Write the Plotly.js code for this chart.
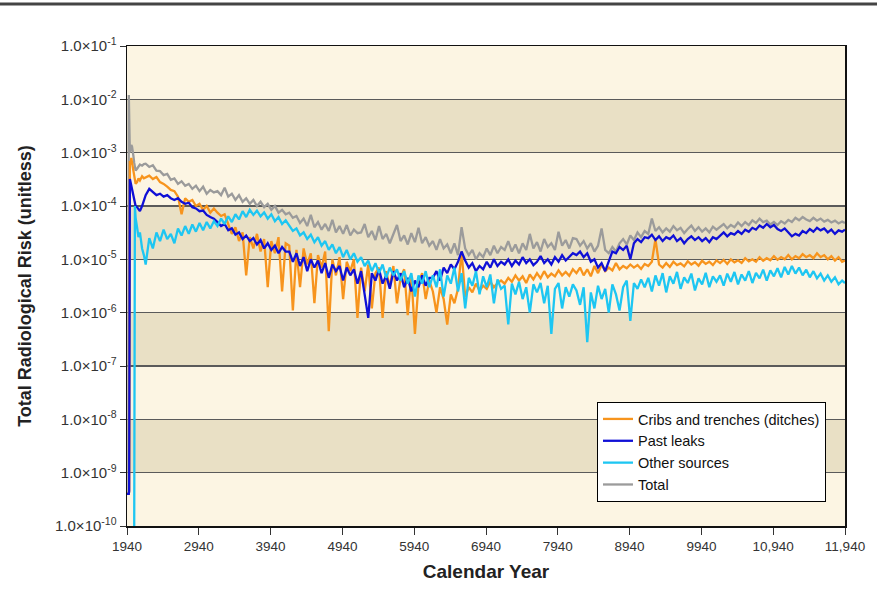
<!DOCTYPE html>
<html>
<head>
<meta charset="utf-8">
<script src="https://cdn.plot.ly/plotly-3.0.1.min.js"></script>
<style>html,body{margin:0;padding:0;background:#fff;}#chart{width:877px;height:591px;}</style>
</head>
<body>
<div id="chart"></div>
<script>
const years = [
 1940,1950,1960,1965,1970,1975,1980,1990,2000,2010,2020,2030,2040,2050,2060,2080,2100,2120,2150,2175,
 2200,2250,2300,2350,2400,2450,2500,2550,2600,2650,2700,2750,2800,2850,2900,2950,3000,3050,3100,3150,
 3200,3250,3300,3350,3400,3450,3500,3550,3600,3650,3700,3750,3800,3850,3900,3950,4000,4050,4100,4150,
 4200,4250,4300,4350,4400,4450,4500,4550,4600,4650,4700,4750,4800,4850,4900,4950,5000,5050,5100,5150,
 5200,5250,5300,5350,5400,5450,5500,5550,5600,5650,5700,5750,5800,5850,5900,5950,6000,6050,6100,6150,
 6200,6250,6300,6350,6400,6450,6500,6550,6600,6650,6700,6750,6800,6850,6900,6950,7000,7050,7100,7150,
 7200,7250,7300,7350,7400,7450,7500,7550,7600,7650,7700,7750,7800,7850,7900,7950,8000,8050,8100,8150,
 8200,8250,8300,8350,8400,8450,8500,8550,8600,8650,8700,8750,8800,8850,8900,8950,9000,9050,9100,9150,
 9200,9250,9300,9350,9400,9450,9500,9550,9600,9650,9700,9750,9800,9850,9900,9950,10000,10050,10100,10150,
 10200,10250,10300,10350,10400,10450,10500,10550,10600,10650,10700,10750,10800,10850,10900,10950,11000,11050,11100,11150,
 11200,11250,11300,11350,11400,11450,11500,11550,11600,11650,11700,11750,11800,11850,11900,11940
];

const total = [
 4e-10,4e-10,4e-10,1.2e-2,3.0e-3,1.3e-3,1.0e-3,1.2e-3,1.4e-3,1.3e-3,1.1e-3,8.5e-4,6.5e-4,5.0e-4,4.6e-4,5.0e-4,5.6e-4,6.0e-4,5.7e-4,6.1e-4,
 6.2e-4,5.4e-4,5.8e-4,4.6e-4,4.5e-4,3.8e-4,4.0e-4,3.1e-4,3.3e-4,2.6e-4,2.9e-4,2.4e-4,2.6e-4,2.1e-4,2.4e-4,1.9e-4,2.3e-4,1.7e-4,2.0e-4,1.8e-4,
 1.9e-4,1.6e-4,2.2e-4,1.5e-4,1.7e-4,1.3e-4,1.6e-4,1.2e-4,1.4e-4,1.1e-4,1.3e-4,1.0e-4,1.2e-4,9.5e-5,1.1e-4,8.5e-5,1.0e-4,7.5e-5,8.5e-5,7.0e-5,
 7.5e-5,6.0e-5,6.5e-5,4.8e-5,5.8e-5,4.2e-5,6.8e-5,4.0e-5,5.0e-5,3.6e-5,4.6e-5,3.4e-5,5.5e-5,3.2e-5,4.2e-5,3.0e-5,4.4e-5,2.8e-5,3.6e-5,3.1e-5,
 3.2e-5,4.6e-5,2.6e-5,3.4e-5,2.3e-5,4.2e-5,2.4e-5,3.0e-5,2.0e-5,2.9e-5,4.4e-5,2.2e-5,2.8e-5,1.9e-5,3.1e-5,2.1e-5,3.9e-5,2.0e-5,2.6e-5,1.8e-5,
 2.2e-5,1.5e-5,2.4e-5,1.6e-5,1.9e-5,1.3e-5,2.0e-5,1.2e-5,4.0e-5,1.6e-5,1.2e-5,1.5e-5,1.0e-5,1.3e-5,1.1e-5,1.6e-5,1.2e-5,1.8e-5,1.3e-5,1.7e-5,
 1.5e-5,2.2e-5,1.4e-5,1.9e-5,1.3e-5,2.0e-5,1.5e-5,3.0e-5,1.6e-5,2.1e-5,1.4e-5,2.4e-5,1.7e-5,2.0e-5,1.5e-5,3.3e-5,1.8e-5,2.3e-5,1.6e-5,2.5e-5,
 2.4e-5,1.8e-5,2.2e-5,1.6e-5,2.0e-5,1.4e-5,1.8e-5,3.8e-5,1.5e-5,1.3e-5,1.7e-5,1.4e-5,2.0e-5,2.4e-5,1.9e-5,2.8e-5,2.3e-5,3.2e-5,2.6e-5,3.4e-5,
 3.0e-5,5.8e-5,3.4e-5,4.0e-5,3.2e-5,3.8e-5,3.3e-5,4.2e-5,3.5e-5,3.9e-5,3.1e-5,3.7e-5,4.3e-5,3.4e-5,4.0e-5,3.3e-5,3.8e-5,3.2e-5,4.1e-5,3.6e-5,
 4.0e-5,4.6e-5,3.8e-5,4.4e-5,4.0e-5,4.9e-5,4.2e-5,5.0e-5,4.4e-5,5.4e-5,4.8e-5,5.8e-5,5.0e-5,5.3e-5,4.5e-5,5.0e-5,4.4e-5,5.2e-5,4.7e-5,5.5e-5,
 5.0e-5,6.0e-5,5.4e-5,6.2e-5,5.6e-5,5.2e-5,6.0e-5,5.3e-5,5.8e-5,5.1e-5,5.5e-5,4.9e-5,5.3e-5,4.7e-5,5.1e-5,4.8e-5
];

const pastLeaks = [
 4e-10,4e-10,4e-10,4e-10,4.5e-10,2.6e-4,3.2e-4,2.8e-4,2.4e-4,2.0e-4,1.7e-4,1.4e-4,1.2e-4,1.1e-4,1.0e-4,9.5e-5,8.5e-5,8.0e-5,1.0e-4,1.3e-4,
 1.6e-4,2.1e-4,1.8e-4,1.6e-4,1.7e-4,1.5e-4,1.6e-4,1.4e-4,1.3e-4,1.4e-4,1.2e-4,1.1e-4,1.15e-4,9.5e-5,9.0e-5,8.0e-5,8.2e-5,6.8e-5,6.2e-5,5.8e-5,
 5.0e-5,4.2e-5,4.6e-5,3.5e-5,3.8e-5,2.9e-5,3.2e-5,2.4e-5,2.8e-5,2.2e-5,2.5e-5,1.9e-5,2.3e-5,1.6e-5,2.0e-5,1.5e-5,1.8e-5,1.3e-5,1.7e-5,1.4e-5,
 1.4e-5,9.0e-6,1.3e-5,7.5e-6,1.1e-5,6.0e-6,1.0e-5,7.0e-6,9.5e-6,5.5e-6,8.5e-6,4.5e-6,8.0e-6,6.0e-6,7.5e-6,4.0e-6,7.0e-6,5.0e-6,6.5e-6,3.5e-6,
 6.0e-6,2.0e-6,8.0e-7,5.5e-6,4.0e-6,6.5e-6,3.5e-6,5.0e-6,2.8e-6,6.0e-6,4.0e-6,5.5e-6,3.0e-6,4.5e-6,2.5e-6,4.0e-6,3.0e-6,5.0e-6,3.2e-6,4.5e-6,
 4.5e-6,6.0e-6,4.0e-6,7.0e-6,5.5e-6,8.0e-6,6.5e-6,9.0e-6,1.4e-5,9.5e-6,7.0e-6,8.5e-6,6.0e-6,7.5e-6,6.5e-6,9.0e-6,7.0e-6,1.0e-5,7.5e-6,9.0e-6,
 8.0e-6,1.0e-5,7.5e-6,9.5e-6,8.0e-6,1.1e-5,8.5e-6,1.0e-5,7.8e-6,9.0e-6,1.15e-5,8.5e-6,1.0e-5,8.0e-6,1.1e-5,9.0e-6,1.2e-5,9.5e-6,1.1e-5,1.3e-5,
 1.2e-5,1.4e-5,1.1e-5,1.3e-5,9.0e-6,1.0e-5,7.0e-6,8.5e-6,6.0e-6,9.5e-6,1.4e-5,1.3e-5,1.7e-5,1.5e-5,1.8e-5,1.0e-5,2.0e-5,2.4e-5,2.1e-5,2.6e-5,
 2.5e-5,2.9e-5,2.3e-5,2.7e-5,2.2e-5,2.6e-5,2.4e-5,2.8e-5,2.2e-5,2.5e-5,2.0e-5,2.4e-5,2.7e-5,2.3e-5,2.6e-5,2.2e-5,2.5e-5,2.1e-5,2.6e-5,2.4e-5,
 2.8e-5,3.2e-5,2.7e-5,3.1e-5,2.9e-5,3.4e-5,3.0e-5,3.6e-5,3.3e-5,3.9e-5,3.6e-5,4.3e-5,3.9e-5,4.6e-5,4.0e-5,4.4e-5,3.7e-5,3.4e-5,3.8e-5,3.2e-5,
 2.7e-5,3.0e-5,2.8e-5,3.4e-5,3.1e-5,3.7e-5,3.3e-5,3.9e-5,3.5e-5,3.8e-5,3.2e-5,3.6e-5,3.0e-5,3.5e-5,3.3e-5,3.6e-5
];

const cribs = [
 4e-10,4e-10,4e-10,4e-10,4.5e-10,5.0e-4,7.0e-4,6.0e-4,8.0e-4,6.5e-4,5.5e-4,4.5e-4,3.6e-4,3.0e-4,2.6e-4,2.8e-4,3.3e-4,3.0e-4,3.6e-4,3.3e-4,
 3.4e-4,3.7e-4,3.2e-4,3.5e-4,2.8e-4,2.6e-4,2.3e-4,2.0e-4,1.9e-4,1.5e-4,7.0e-5,1.4e-4,1.2e-4,1.3e-4,1.0e-4,1.1e-4,8.5e-5,1.0e-4,7.5e-5,9.0e-5,
 7.5e-5,6.5e-5,7.0e-5,4.5e-5,3.0e-5,4.0e-5,2.2e-5,3.2e-5,5.0e-6,2.6e-5,1.6e-5,3.0e-5,1.4e-5,2.4e-5,3.0e-6,2.2e-5,1.3e-5,2.6e-5,2.5e-6,2.0e-5,
 1.8e-5,1.1e-6,1.5e-5,3.0e-6,1.6e-5,8.0e-6,1.3e-5,1.5e-6,1.2e-5,7.0e-6,1.4e-5,4.5e-7,1.0e-5,5.0e-6,1.1e-5,1.8e-6,9.0e-6,6.0e-6,1.0e-5,8.0e-7,
 7.0e-6,2.5e-6,8.0e-6,1.2e-6,5.5e-6,7.0e-6,8.0e-7,6.0e-6,3.0e-6,7.5e-6,1.5e-6,4.5e-6,6.5e-6,9.0e-7,5.0e-6,4.0e-7,3.5e-6,5.5e-6,1.8e-6,4.0e-6,
 2.5e-6,1.0e-6,3.0e-6,1.8e-6,6.0e-7,2.2e-6,1.5e-6,2.8e-6,1.4e-5,2.0e-6,3.0e-6,2.4e-6,3.5e-6,2.6e-6,3.2e-6,2.8e-6,3.8e-6,3.0e-6,3.6e-6,4.0e-6,
 3.5e-6,4.5e-6,3.8e-6,5.0e-6,4.0e-6,4.8e-6,3.6e-6,5.2e-6,4.2e-6,5.5e-6,4.4e-6,6.0e-6,4.6e-6,5.4e-6,4.8e-6,6.2e-6,5.0e-6,5.8e-6,4.9e-6,6.5e-6,
 5.5e-6,7.0e-6,5.0e-6,6.5e-6,4.8e-6,7.5e-6,5.5e-6,8.0e-6,6.0e-6,7.0e-6,6.2e-6,8.5e-6,6.5e-6,7.5e-6,6.8e-6,8.0e-6,7.0e-6,7.8e-6,6.6e-6,8.2e-6,
 7.5e-6,9.0e-6,2.4e-5,8.0e-6,7.0e-6,8.5e-6,7.2e-6,9.0e-6,7.8e-6,8.4e-6,7.4e-6,9.2e-6,8.0e-6,8.8e-6,7.6e-6,9.4e-6,8.2e-6,9.0e-6,7.8e-6,9.6e-6,
 8.5e-6,9.8e-6,8.2e-6,1.0e-5,8.8e-6,9.6e-6,8.6e-6,1.05e-5,9.2e-6,1.0e-5,9.0e-6,1.1e-5,9.4e-6,1.05e-5,9.6e-6,1.15e-5,9.8e-6,1.1e-5,1.0e-5,1.2e-5,
 1.0e-5,1.15e-5,1.05e-5,1.25e-5,1.1e-5,1.2e-5,1.05e-5,1.3e-5,1.1e-5,1.2e-5,1.0e-5,1.15e-5,9.5e-6,1.1e-5,9.0e-6,9.5e-6
];

const otherSources = [
 5e-11,5e-11,5e-11,5e-11,5e-11,5e-11,5e-11,5e-11,5e-11,5e-11,5e-11,5e-11,5e-11,1.0e-4,6.0e-5,4.0e-5,2.6e-5,3.2e-5,1.6e-5,1.2e-5,
 8.0e-6,2.5e-5,1.6e-5,3.2e-5,2.2e-5,3.6e-5,2.4e-5,3.0e-5,2.0e-5,3.8e-5,2.8e-5,4.2e-5,3.0e-5,4.5e-5,3.3e-5,4.8e-5,3.5e-5,5.0e-5,3.8e-5,5.2e-5,
 4.2e-5,5.8e-5,4.6e-5,6.4e-5,5.0e-5,7.0e-5,5.6e-5,8.0e-5,6.2e-5,8.5e-5,6.8e-5,8.2e-5,6.4e-5,7.6e-5,5.8e-5,7.0e-5,5.2e-5,6.2e-5,4.6e-5,5.4e-5,
 4.2e-5,3.4e-5,3.8e-5,2.8e-5,3.2e-5,2.4e-5,2.9e-5,2.1e-5,2.6e-5,1.8e-5,2.2e-5,1.5e-5,1.9e-5,1.3e-5,1.7e-5,1.1e-5,1.5e-5,1.0e-5,1.3e-5,9.0e-6,
 1.1e-5,7.5e-6,9.5e-6,6.0e-6,8.5e-6,5.5e-6,8.0e-6,4.5e-6,7.0e-6,5.0e-6,6.5e-6,4.0e-6,6.0e-6,3.5e-6,5.5e-6,2.0e-6,5.0e-6,3.5e-6,6.0e-6,3.0e-6,
 5.0e-6,3.0e-6,6.5e-6,2.0e-6,5.0e-6,3.5e-6,7.0e-6,2.5e-6,5.5e-6,1.2e-6,4.5e-6,3.2e-6,6.0e-6,2.2e-6,4.8e-6,3.0e-6,5.2e-6,1.5e-6,4.2e-6,2.8e-6,
 3.2e-6,6.0e-7,3.5e-6,2.2e-6,3.8e-6,1.8e-6,3.0e-6,1.0e-6,3.4e-6,2.4e-6,3.6e-6,1.5e-6,3.2e-6,4.0e-7,2.8e-6,3.6e-6,1.2e-6,3.0e-6,2.0e-6,3.4e-6,
 2.6e-6,1.4e-6,3.0e-6,2.8e-7,2.4e-6,1.2e-6,3.2e-6,1.8e-6,2.8e-6,1.0e-6,3.4e-6,2.2e-6,1.1e-6,3.0e-6,4.0e-6,7.0e-7,3.6e-6,2.8e-6,4.2e-6,3.0e-6,
 4.5e-6,2.5e-6,5.0e-6,3.2e-6,5.5e-6,2.4e-6,4.8e-6,3.5e-6,5.8e-6,2.8e-6,4.6e-6,3.6e-6,5.4e-6,2.6e-6,4.4e-6,3.4e-6,5.6e-6,3.0e-6,4.8e-6,3.8e-6,
 5.0e-6,3.2e-6,5.4e-6,3.8e-6,5.8e-6,3.4e-6,5.2e-6,4.0e-6,6.0e-6,3.6e-6,5.6e-6,4.4e-6,6.4e-6,4.0e-6,6.2e-6,4.8e-6,6.8e-6,4.6e-6,7.2e-6,5.2e-6,
 7.5e-6,5.4e-6,7.0e-6,5.0e-6,6.4e-6,4.6e-6,6.0e-6,4.4e-6,5.4e-6,4.0e-6,5.0e-6,3.8e-6,4.6e-6,3.4e-6,4.0e-6,3.6e-6
];

const seriesNames = ["Cribs and trenches (ditches)", "Past leaks", "Other sources", "Total"];
const xTickVals = [1940,2940,3940,4940,5940,6940,7940,8940,9940,10940,11940];
const xTickText = ["1940","2940","3940","4940","5940","6940","7940","8940","9940","10,940","11,940"];
const yTickVals = [1e-10,1e-9,1e-8,1e-7,1e-6,1e-5,1e-4,1e-3,1e-2,1e-1];
const yTickText = ["1.0×10<sup>-10</sup>","1.0×10<sup>-9</sup>","1.0×10<sup>-8</sup>","1.0×10<sup>-7</sup>","1.0×10<sup>-6</sup>","1.0×10<sup>-5</sup>","1.0×10<sup>-4</sup>","1.0×10<sup>-3</sup>","1.0×10<sup>-2</sup>","1.0×10<sup>-1</sup>"];

const FONT = "Arial, 'Liberation Sans', sans-serif";
const light = "#FCF5E3", dark = "#E9E0C5";

function tr(y, name, color, rank, w) {
  return {x: years, y: y, name: name, type: "scatter", mode: "lines",
    line: {color: color, width: w}, legendrank: rank};
}
const data = [
  tr(total, seriesNames[3], "#9B9B9B", 4, 2.3),
  tr(cribs, seriesNames[0], "#F7941D", 1, 2.3),
  tr(pastLeaks, seriesNames[1], "#1010D6", 2, 2.3),
  tr(otherSources, seriesNames[2], "#1EC6F2", 3, 2.3)
];

const shapes = [];
for (let k = 0; k < 9; k++) {
  if (k % 2 === 1) {
    shapes.push({type: "rect", xref: "paper", yref: "paper", x0: 0, x1: 1, y0: k/9, y1: (k+1)/9,
      fillcolor: dark, line: {width: 0}, layer: "below"});
  }
}
shapes.push({type: "line", xref: "paper", yref: "paper", x0: -0.18, x1: 1.05, y0: 1.0875, y1: 1.0875,
  line: {color: "#444", width: 3}});

const layout = {
  width: 877, height: 591,
  margin: {l: 127, r: 32, t: 46, b: 65},
  paper_bgcolor: "#ffffff",
  plot_bgcolor: light,
  font: {family: FONT, color: "#222", size: 12},
  showlegend: true,
  legend: {x: 0.9735, xanchor: "right", y: 0.05, yanchor: "bottom",
    bgcolor: "#ffffff", bordercolor: "#000", borderwidth: 1,
    font: {family: FONT, size: 14.5, color: "#111"}, tracegroupgap: 0},
  xaxis: {type: "linear", range: [1940, 11940], tickmode: "array", tickvals: xTickVals, ticktext: xTickText,
    ticks: "outside", ticklen: 7, tickcolor: "#333", showgrid: false, zeroline: false,
    showline: true, linecolor: "#111", linewidth: 1.5, mirror: true,
    tickfont: {family: FONT, size: 13.5, color: "#333"},
    title: {text: "<b>Calendar Year</b>", font: {family: FONT, size: 19, color: "#222"}, standoff: 12}},
  yaxis: {type: "log", range: [-10, -1], tickmode: "array", tickvals: yTickVals, ticktext: yTickText,
    ticks: "outside", ticklen: 6, tickcolor: "#333", showgrid: true, gridcolor: "#5a5a5a", gridwidth: 1.4,
    zeroline: false, showline: true, linecolor: "#111", linewidth: 1.5, mirror: true,
    tickfont: {family: FONT, size: 15, color: "#333"},
    title: {text: "<b>Total Radiological Risk (unitless)</b>", font: {family: FONT, size: 18, color: "#222"}, standoff: 18}},
  shapes: shapes
};

Plotly.newPlot("chart", data, layout, {displayModeBar: false, staticPlot: true});
</script>
</body>
</html>
